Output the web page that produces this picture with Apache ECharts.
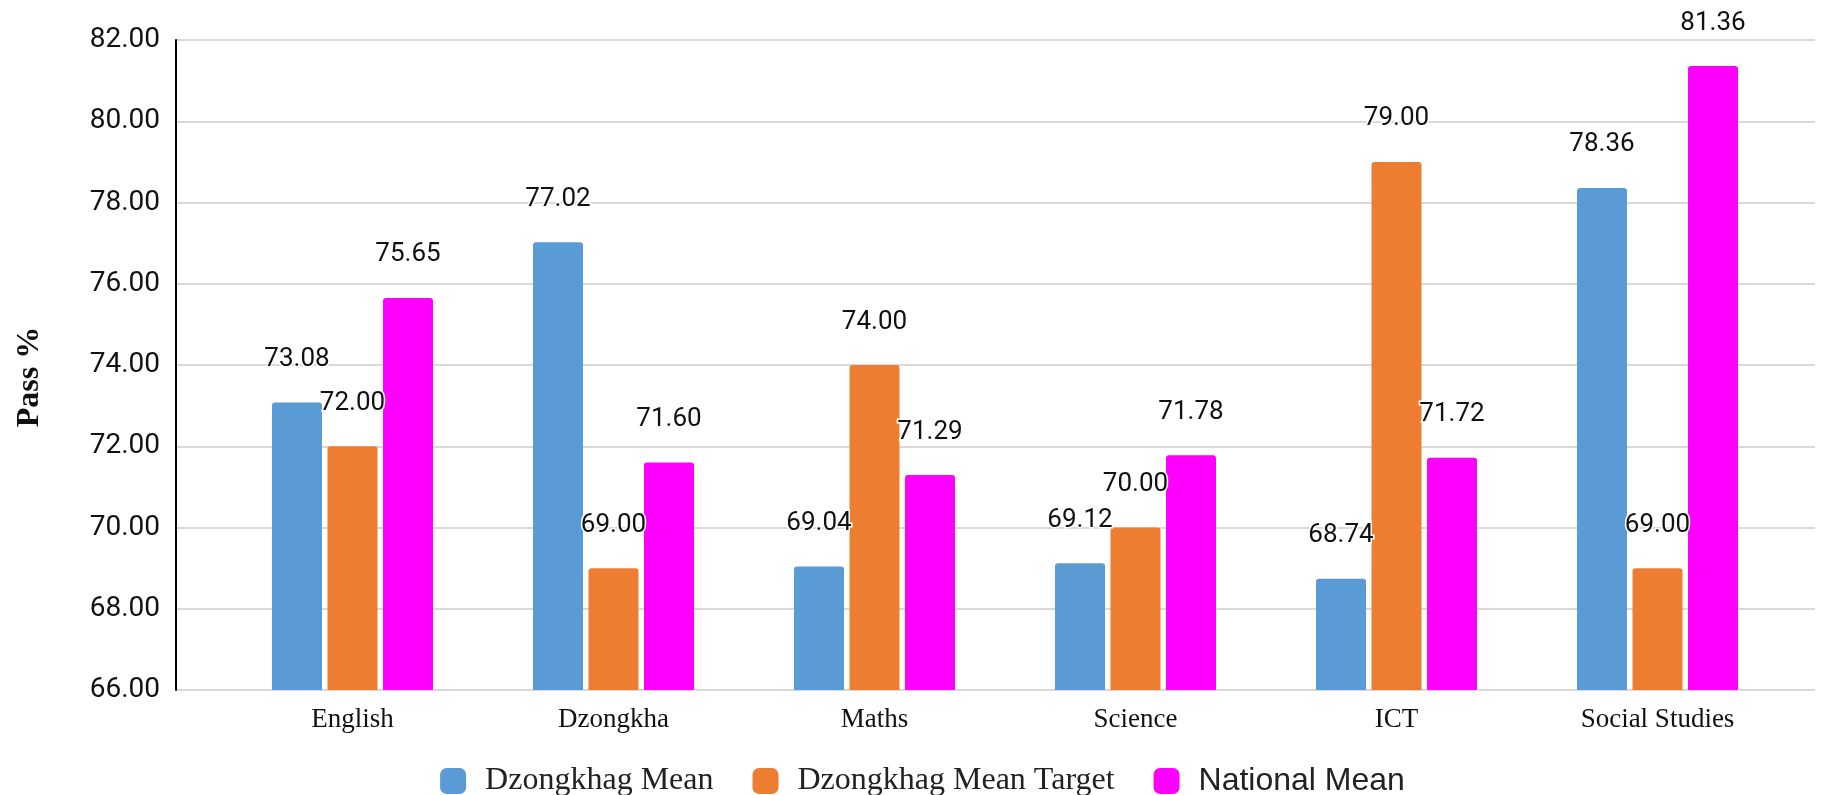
<!DOCTYPE html>
<html>
<head>
<meta charset="utf-8">
<title>Pass % by Subject</title>
<script src="https://cdn.jsdelivr.net/npm/echarts@6/dist/echarts.min.js"></script>
<style>
  html, body { margin: 0; padding: 0; background: #fff; }
  #chart { width: 1845px; height: 795px; }
</style>
</head>
<body>
<div id="chart"></div>
<script>
// Subjects along the x axis
const subjects = ['English', 'Dzongkha', 'Maths', 'Science', 'ICT', 'Social Studies'];

// Pass % per subject
const dzongkhagMean = [73.08, 77.02, 69.04, 69.12, 68.74, 78.36];
const dzongkhagTarget = [72.00, 69.00, 74.00, 70.00, 79.00, 69.00];
const nationalMean = [75.65, 71.60, 71.29, 71.78, 71.72, 81.36];

// Value axis range and step
const yMin = 66;
const yMax = 82;
const yStep = 2;

const seriesNames = ['Dzongkhag Mean', 'Dzongkhag Mean Target', 'National Mean'];
const seriesColors = ['#5b9bd5', '#ed7d31', '#ff00ff'];
const seriesValues = [dzongkhagMean, dzongkhagTarget, nationalMean];

const chart = echarts.init(document.getElementById('chart'), null, { renderer: 'canvas' });

const barSeries = seriesNames.map((name, i) => ({
  name: name,
  type: 'bar',
  xAxisIndex: 1,
  yAxisIndex: 1,
  data: seriesValues[i],
  barWidth: 50,
  barGap: '11%',
  itemStyle: { color: seriesColors[i], borderRadius: [3, 3, 0, 0] },
  label: {
    show: true,
    position: 'top',
    distance: 30,
    formatter: p => p.value.toFixed(2),
    fontFamily: 'Roboto',
    fontSize: 26,
    color: '#111',
    textBorderColor: '#fff',
    textBorderWidth: 3
  }
}));

chart.setOption({
  animation: false,
  backgroundColor: '#fff',
  grid: [
    // frame carrying the value axis and its gridlines
    { left: 176, right: 30, top: 40, bottom: 105 },
    // inner band where the subject groups sit
    { left: 222, right: 57, top: 40, bottom: 105 }
  ],
  legend: {
    top: 760,
    left: 'center',
    icon: 'roundRect',
    itemWidth: 26,
    itemHeight: 26,
    itemGap: 39,
    data: [
      { name: seriesNames[0], textStyle: { fontFamily: 'Liberation Serif' } },
      { name: seriesNames[1], textStyle: { fontFamily: 'Liberation Serif' } },
      { name: seriesNames[2], textStyle: { fontFamily: 'Liberation Sans' } }
    ],
    textStyle: { fontSize: 32, color: '#222', padding: [0, 0, 0, 14] }
  },
  xAxis: [
    { gridIndex: 0, type: 'value', show: false, min: 0, max: 1 },
    {
      gridIndex: 1,
      type: 'category',
      data: subjects,
      axisLine: { show: false },
      axisTick: { show: false },
      axisLabel: {
        fontFamily: 'Liberation Serif',
        fontSize: 27,
        color: '#111',
        margin: 16
      }
    }
  ],
  yAxis: [
    {
      gridIndex: 0,
      type: 'value',
      min: yMin,
      max: yMax,
      interval: yStep,
      name: 'Pass %',
      nameLocation: 'middle',
      nameGap: 130,
      nameTextStyle: {
        fontFamily: 'Liberation Serif',
        fontWeight: 'bold',
        fontSize: 32,
        color: '#111',
        padding: [0, 24, 0, 0]
      },
      axisLine: { show: true, lineStyle: { color: '#000', width: 2 } },
      axisTick: { show: false },
      axisLabel: {
        formatter: v => v.toFixed(2),
        fontFamily: 'Roboto',
        fontSize: 28,
        color: '#111',
        margin: 16
      },
      splitLine: { show: true, lineStyle: { color: '#cccccc', width: 1.5 } }
    },
    {
      gridIndex: 1,
      type: 'value',
      min: yMin,
      max: yMax,
      interval: yStep,
      show: false,
      splitLine: { show: false }
    }
  ],
  series: barSeries
});
</script>
</body>
</html>
